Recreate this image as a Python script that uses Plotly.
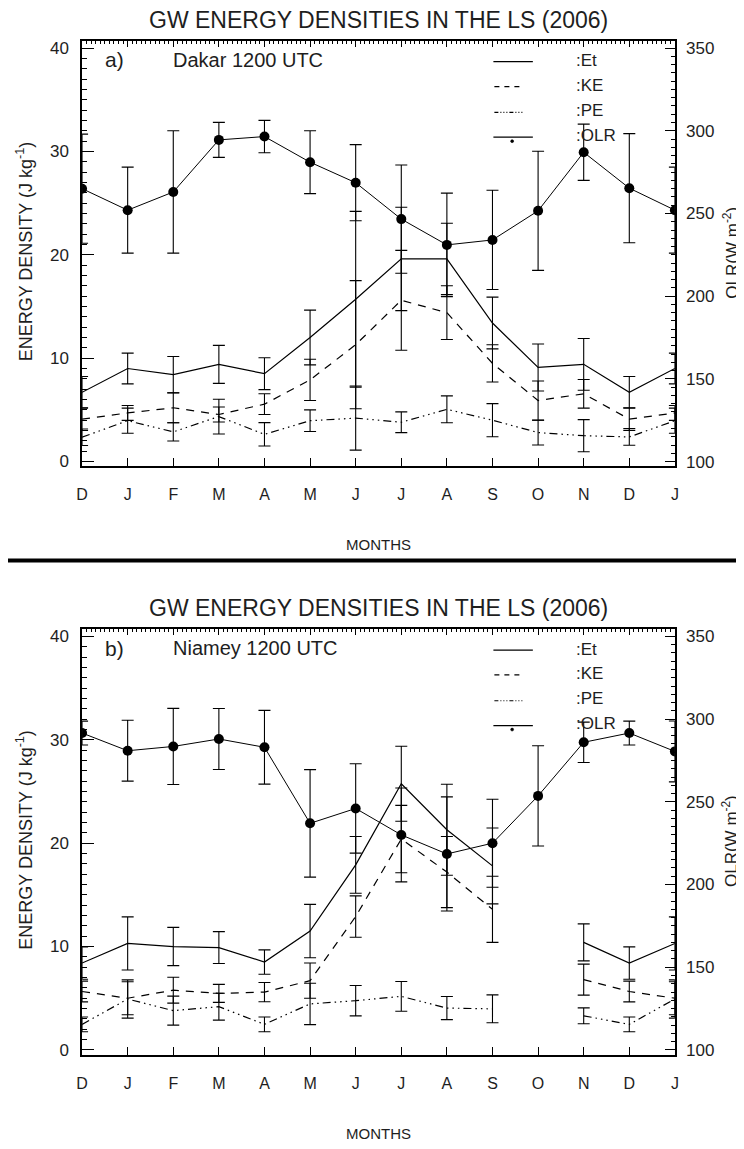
import plotly.graph_objects as go

# ---------------- data ----------------
months = ["D", "J", "F", "M", "A", "M", "J", "J", "A", "S", "O", "N", "D", "J"]
month_idx = list(range(len(months)))

# Dakar (panel a)
dakar_et = [6.7, 9.0, 8.4, 9.4, 8.5, 12.0, 15.7, 19.6, 19.6, 13.4, 9.1, 9.4, 6.7, 9.0]
dakar_et_err = [1.53, 1.49, 1.76, 1.84, 1.54, 2.65, 8.5, 5.0, 3.45, 2.5, 2.27, 2.5, 1.53, 1.49]
dakar_ke = [4.1, 4.7, 5.2, 4.55, 5.55, 7.9, 11.3, 15.6, 14.4, 9.5, 5.9, 6.55, 4.1, 4.7]
dakar_ke_err = [1.1, 0.72, 1.45, 0.72, 1.0, 2.0, 6.2, 4.83, 2.6, 1.8, 1.89, 1.38, 1.1, 0.72]
dakar_pe = [2.35, 3.95, 2.87, 4.35, 2.63, 3.95, 4.2, 3.8, 5.05, 4.0, 2.8, 2.5, 2.38, 3.95]
dakar_pe_err = [0.8, 1.22, 0.88, 1.68, 1.13, 1.05, 3.1, 1.0, 1.3, 1.6, 1.2, 1.55, 0.8, 1.22]
dakar_olr = [265, 252, 263, 294.5, 296.5, 281, 268.6, 246.6, 231, 234, 251.6, 287, 265.3, 252]
dakar_olr_err = [33, 26, 37, 10.6, 9.8, 19, 23, 32.7, 31.3, 30, 36, 17, 33, 26]

# Niamey (panel b) - no energy data in October
niamey_et = [8.4, 10.3, 10.0, 9.9, 8.5, 11.5, 17.9, 25.75, 21.3, 17.8, None, 10.4, 8.4, 10.3]
niamey_et_err = [1.57, 2.57, 1.85, 1.54, 1.18, 2.58, 2.75, 3.63, 4.4, 3.67, None, 1.79, 1.57, 2.57]
niamey_ke = [5.65, 5.0, 5.78, 5.47, 5.59, 6.7, 12.9, 20.4, 17.2, 13.6, None, 6.8, 5.65, 5.0]
niamey_ke_err = [1.0, 1.6, 1.25, 0.87, 0.93, 1.7, 2.0, 3.26, 3.44, 3.2, None, 1.5, 1.0, 1.6]
niamey_pe = [2.47, 4.92, 3.8, 4.18, 2.47, 4.45, 4.76, 5.18, 4.05, 3.97, None, 3.3, 2.47, 4.92]
niamey_pe_err = [0.72, 1.85, 1.4, 1.3, 0.72, 2.0, 1.47, 1.44, 1.12, 1.35, None, 0.77, 0.72, 1.85]
niamey_olr = [291.6, 280.9, 283.5, 288, 283, 237, 246, 230, 218.5, 225, 253.6, 286, 291.6, 280.5]
niamey_olr_err = [7.2, 18.4, 23, 18.4, 22.3, 32.5, 27, 28.4, 34.5, 26.6, 30.3, 12.2, 7.2, 18.4]

panel_titles = ["GW ENERGY DENSITIES IN THE LS (2006)", "GW ENERGY DENSITIES IN THE LS (2006)"]
panel_tags = ["a)", "b)"]
panel_sites = ["Dakar 1200 UTC", "Niamey 1200 UTC"]
legend_labels = [":Et", ":KE", ":PE", ":OLR"]

# ---------------- styling ----------------
PAGE_W, PAGE_H = 744, 1149
BODY = 8  # default HTML body margin; the figure starts 8px in from the page corner
W, H = PAGE_W - BODY, PAGE_H - BODY
FONT = "Liberation Sans, Arial, Helvetica, sans-serif"
INK = "#1e1e1e"
PANEL_OFF = 592  # vertical pixel offset between the two panels
KE_DASH = "8px,7px"
PE_DASH = "8px,4px,1.5px,4px,1.5px,4px,1.5px,4px"
L_RANGE = [-0.45, 40.7]
R_RANGE = [97.2, 354.4]


def px(xpage):
    return (xpage - BODY) / W


def py(ypage):
    return 1 - (ypage - BODY) / H


X0, X1 = px(77), px(678)


def eb(arr):
    return dict(type="data", array=arr, visible=True, color="black", thickness=1.1, width=6)


fig = go.Figure()

panels = [
    dict(xb="x", xt="x2", yl="y", yr="y2",
         et=dakar_et, et_e=dakar_et_err, ke=dakar_ke, ke_e=dakar_ke_err,
         pe=dakar_pe, pe_e=dakar_pe_err, olr=dakar_olr, olr_e=dakar_olr_err),
    dict(xb="x3", xt="x4", yl="y3", yr="y4",
         et=niamey_et, et_e=niamey_et_err, ke=niamey_ke, ke_e=niamey_ke_err,
         pe=niamey_pe, pe_e=niamey_pe_err, olr=niamey_olr, olr_e=niamey_olr_err),
]

for p in panels:
    fig.add_trace(go.Scatter(x=month_idx, y=p["et"], xaxis=p["xb"], yaxis=p["yl"], mode="lines",
                             line=dict(color="black", width=1.2), error_y=eb(p["et_e"]),
                             connectgaps=False, showlegend=False, name="Et"))
    fig.add_trace(go.Scatter(x=month_idx, y=p["ke"], xaxis=p["xb"], yaxis=p["yl"], mode="lines",
                             line=dict(color="black", width=1.2, dash=KE_DASH), error_y=eb(p["ke_e"]),
                             connectgaps=False, showlegend=False, name="KE"))
    fig.add_trace(go.Scatter(x=month_idx, y=p["pe"], xaxis=p["xb"], yaxis=p["yl"], mode="lines",
                             line=dict(color="black", width=1.2, dash=PE_DASH), error_y=eb(p["pe_e"]),
                             connectgaps=False, showlegend=False, name="PE"))
    fig.add_trace(go.Scatter(x=month_idx, y=p["olr"], xaxis=p["xb"], yaxis=p["yr"], mode="lines+markers",
                             line=dict(color="black", width=1.0), marker=dict(color="black", size=10),
                             error_y=eb(p["olr_e"]), showlegend=False, name="OLR"))
    # reference trace so the top (minor-ticked) axis is drawn
    fig.add_trace(go.Scatter(x=[month_idx[0], month_idx[-1]], y=[None, None], xaxis=p["xt"], yaxis=p["yl"],
                             mode="lines", showlegend=False, hoverinfo="skip"))

tickfont = dict(family=FONT, size=17, color=INK)
monthfont = dict(family=FONT, size=16, color=INK)

layout = dict(
    width=W, height=H, margin=dict(l=0, r=0, t=0, b=0),
    paper_bgcolor="white", plot_bgcolor="white", showlegend=False,
    font=dict(family=FONT, color=INK),
)

domains = [[py(467), py(39)], [py(467 + PANEL_OFF), py(39 + PANEL_OFF)]]
names = [("xaxis", "xaxis2", "yaxis", "yaxis2", "x", "y"), ("xaxis3", "xaxis4", "yaxis3", "yaxis4", "x3", "y3")]

for (xb, xt, yl, yr, xref, yref), dom in zip(names, domains):
    layout[xb] = dict(domain=[X0, X1], anchor=yref, range=[0, 13], tickmode="array",
                      tickvals=month_idx, ticktext=months, ticks="inside", ticklen=8, tickwidth=1.2,
                      tickcolor="black", showline=True, linecolor="black", linewidth=1.6,
                      showgrid=False, zeroline=False, tickfont=monthfont, ticklabelstandoff=13)
    layout[xt] = dict(overlaying=xref, side="top", anchor=yref, range=[0, 13], tickmode="linear",
                      tick0=0, dtick=1, ticks="inside", ticklen=6, tickwidth=1, tickcolor="black",
                      showticklabels=False, showline=True, linecolor="black", linewidth=1.6,
                      showgrid=False, zeroline=False,
                      minor=dict(ticks="inside", ticklen=3, tickmode="linear", tick0=0, dtick=0.1,
                                 tickcolor="black", tickwidth=0.8, showgrid=False))
    layout[yl] = dict(domain=dom, anchor=xref, range=L_RANGE, tickmode="linear", tick0=0, dtick=10,
                      ticks="inside", ticklen=12, tickwidth=1.2, tickcolor="black",
                      showline=True, linecolor="black", linewidth=1.6, showgrid=False, zeroline=False,
                      tickfont=tickfont, ticklabelstandoff=8,
                      minor=dict(ticks="inside", ticklen=5, tickmode="linear", tick0=0, dtick=1,
                                 tickcolor="black", tickwidth=1, showgrid=False))
    layout[yr] = dict(overlaying=yref, side="right", anchor=xref, range=R_RANGE, tickmode="linear",
                      tick0=100, dtick=50, ticks="inside", ticklen=10, tickwidth=1.2, tickcolor="black",
                      showline=True, linecolor="black", linewidth=1.6, showgrid=False, zeroline=False,
                      tickfont=tickfont, ticklabelstandoff=6,
                      minor=dict(ticks="inside", ticklen=4, tickmode="linear", tick0=100, dtick=5,
                                 tickcolor="black", tickwidth=1, showgrid=False))

annotations = []
shapes = []
for i in range(2):
    off = i * PANEL_OFF
    annotations.append(dict(text=panel_titles[i], x=(X0 + X1) / 2, y=py(18 + off), xref="paper", yref="paper",
                            showarrow=False, xanchor="center", yanchor="middle",
                            font=dict(family=FONT, size=23, color=INK)))
    annotations.append(dict(text=panel_tags[i], x=px(98), y=py(58 + off), xref="paper", yref="paper",
                            showarrow=False, xanchor="left", yanchor="middle",
                            font=dict(family=FONT, size=21, color=INK)))
    annotations.append(dict(text=panel_sites[i], x=px(167), y=py(58 + off), xref="paper", yref="paper",
                            showarrow=False, xanchor="left", yanchor="middle",
                            font=dict(family=FONT, size=20, color=INK)))
    annotations.append(dict(text="MONTHS", x=(X0 + X1) / 2, y=py(546 + off), xref="paper", yref="paper",
                            showarrow=False, xanchor="center", yanchor="middle",
                            font=dict(family=FONT, size=15, color=INK)))
    annotations.append(dict(text="ENERGY DENSITY (J kg<sup>-1</sup>)", x=px(19), y=py(251 + off),
                            xref="paper", yref="paper", showarrow=False, textangle=-90,
                            xanchor="center", yanchor="middle", font=dict(family=FONT, size=18, color=INK)))
    annotations.append(dict(text="OLR(W m<sup>-2</sup>)", x=px(734), y=py(252 + off),
                            xref="paper", yref="paper", showarrow=False, textangle=-90,
                            xanchor="center", yanchor="middle", font=dict(family=FONT, size=17, color=INK)))
    # legend
    ys = [59, 84, 109, 134]
    for lab, yy in zip(legend_labels, ys):
        annotations.append(dict(text=lab, x=px(576), y=py(yy + off), xref="paper", yref="paper",
                                showarrow=False, xanchor="left", yanchor="middle",
                                font=dict(family=FONT, size=17, color=INK)))
    shapes.append(dict(type="line", xref="paper", yref="paper", x0=px(494), x1=px(534),
                       y0=py(60 + off), y1=py(60 + off), line=dict(color="black", width=1.2)))
    shapes.append(dict(type="line", xref="paper", yref="paper", x0=px(495), x1=px(524),
                       y0=py(85 + off), y1=py(85 + off), line=dict(color="black", width=1.2, dash="5px,5px")))
    shapes.append(dict(type="line", xref="paper", yref="paper", x0=px(495), x1=px(524),
                       y0=py(111 + off), y1=py(111 + off),
                       line=dict(color="black", width=1.2, dash="4px,2px,1px,2px,1px,2px,1px,2px")))
    shapes.append(dict(type="line", xref="paper", yref="paper", x0=px(494), x1=px(534),
                       y0=py(136 + off), y1=py(136 + off), line=dict(color="black", width=1.2)))
    shapes.append(dict(type="circle", xref="paper", yref="paper", x0=px(511.5), x1=px(514.5),
                       y0=py(141.5 + off), y1=py(138.5 + off), fillcolor="black",
                       line=dict(color="black", width=0.5)))

# separator between the two panels
shapes.append(dict(type="line", xref="paper", yref="paper", x0=px(0), x1=1, y0=py(562), y1=py(562),
                   line=dict(color="black", width=4)))

layout["annotations"] = annotations
layout["shapes"] = shapes
fig.update_layout(**layout)

fig.write_html("out.html")
